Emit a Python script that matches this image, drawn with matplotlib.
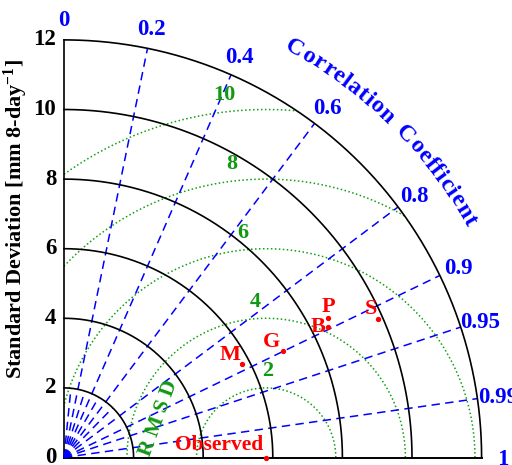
import numpy as np
import matplotlib
matplotlib.use("Agg")
import matplotlib.pyplot as plt
from matplotlib.patches import Wedge
from matplotlib.font_manager import FontProperties

# ---------------- data ----------------
model_names = ["M", "G", "B", "P", "S"]
model_std = [5.78, 6.99, 8.46, 8.58, 9.87]
model_corr = [0.886, 0.900, 0.897, 0.885, 0.915]
obs_name = "Observed"
obs_std = 5.81

std_ticks = [0, 2, 4, 6, 8, 10, 12]
corr_major = [0.2, 0.4, 0.6, 0.8, 0.9, 0.95, 0.99]
corr_minor = [0.1, 0.3, 0.5, 0.7]
corr_labels = [0, 0.2, 0.4, 0.6, 0.8, 0.9, 0.95, 0.99, 1]
rmsd_levels = [2, 4, 6, 8, 10]

# ---------------- style ----------------
FAM = "Liberation Serif"
plt.rcParams["mathtext.fontset"] = "custom"
plt.rcParams["mathtext.rm"] = "Liberation Serif:bold"
plt.rcParams["mathtext.bf"] = "Liberation Serif:bold"
plt.rcParams["mathtext.default"] = "bf"
BLUE = "#0000ff"
GREEN = "#11a011"
GREEN_TXT = "#119911"
RED = "#ff0000"
RMAX = 12.0

W, H = 512, 465
fig = plt.figure(figsize=(W / 100, H / 100), dpi=100)
ax = fig.add_axes([0, 0, 1, 1])
ppu = 34.8
ox, oy = 64, 457.5
ax.set_xlim(-ox / ppu, (W - ox) / ppu)
ax.set_ylim(-(H - oy) / ppu, oy / ppu)
ax.set_aspect("equal")
ax.axis("off")

clip = Wedge((0, 0), RMAX, 0, 90, transform=ax.transData, facecolor="none", edgecolor="none")
ax.add_patch(clip)

# correlation lines
for c in corr_major:
    th = np.arccos(c)
    ax.plot([0, RMAX * np.cos(th)], [0, RMAX * np.sin(th)], color=BLUE, lw=1.1,
            linestyle=(0, (5.5, 3.5)), zorder=2)
for c in corr_minor:
    th = np.arccos(c)
    ax.plot([0, 2.0 * np.cos(th)], [0, 2.0 * np.sin(th)], color=BLUE, lw=1.1,
            linestyle=(0, (5.5, 3.5)), zorder=2)

# std arcs
t = np.linspace(0, np.pi / 2, 400)
for s in std_ticks[1:]:
    ax.plot(s * np.cos(t), s * np.sin(t), color="black", lw=1.2, zorder=3)
ax.plot([0, 0], [0, RMAX], color="black", lw=1.2, zorder=3)
ax.plot([0, RMAX], [0, 0], color="black", lw=1.4, zorder=3)

# RMSD circles
tt = np.linspace(0, np.pi, 800)
label_angles = {2: 89, 4: 94, 6: 96, 8: 96.6, 10: 96.6}
for r in rmsd_levels:
    ln, = ax.plot(obs_std + r * np.cos(tt), r * np.sin(tt), color=GREEN, lw=1.1,
                  linestyle=(0, (1, 1.6)), zorder=1)
    ln.set_clip_path(clip)
    a = np.deg2rad(label_angles[r])
    rr = r + 0.48
    ax.text(obs_std + rr * np.cos(a), rr * np.sin(a), str(r), color=GREEN_TXT,
            fontsize=16, fontweight="bold", family=FAM, ha="center", va="center")

ax.text(2.72, 1.12, "R M S D", rotation=70, color=GREEN_TXT, fontsize=15.5,
        fontweight="bold", family=FAM, ha="center", va="center")

# std tick labels
for s in std_ticks:
    ax.text(-0.22, s, str(s), ha="right", va="center", fontsize=16.5,
            fontweight="bold", family=FAM)
ax.text(-1.38, 6.85, "Standard Deviation [mm 8-day$^{-1}$]", rotation=90,
        ha="center", va="center", fontsize=16, fontweight="bold", family=FAM)

# correlation labels
for c in corr_labels:
    th = np.arccos(c)
    rr = 12.6
    lab = "0" if c == 0 else ("1" if c == 1 else f"{c:g}")
    ax.text(rr * np.cos(th), rr * np.sin(th) - 0.05, lab, color=BLUE,
            fontsize=16.5, fontweight="bold", family=FAM, ha="center", va="center")

# curved "Correlation Coefficient"
title = "Correlation Coefficient"
fp = FontProperties(family=FAM, weight="bold", size=17.5)
fig.canvas.draw()
rend = fig.canvas.get_renderer()
widths = []
for ch in title:
    if ch == " ":
        w = rend.get_text_width_height_descent("n", fp, ismath=False)[0] * 0.7
    else:
        w = rend.get_text_width_height_descent(ch, fp, ismath=False)[0]
    widths.append(w)
widths = np.array(widths)
centers = np.cumsum(widths) - widths / 2
R_t = 13.5
a0, a1 = np.deg2rad(60.6), np.deg2rad(30.3)
span = (a0 - a1)
frac = (centers - centers[0]) / (centers[-1] - centers[0])
for ch, f in zip(title, frac):
    if ch == " ":
        continue
    a = a0 - f * span
    ax.text(R_t * np.cos(a), R_t * np.sin(a), ch, color=BLUE, fontproperties=fp,
            rotation=np.rad2deg(a) - 90, ha="center", va="center",
            rotation_mode="anchor")

# origin marker
ax.add_patch(Wedge((0, 0), 0.14, 0, 90, color=BLUE, zorder=5))

# points
offsets = {"M": (-12, 9), "G": (-11, 9), "B": (-10, 0), "P": (0, 11), "S": (-7, 10)}
for n, s, c in zip(model_names, model_std, model_corr):
    th = np.arccos(c)
    x, y = s * np.cos(th), s * np.sin(th)
    ax.plot(x, y, "o", color=RED, ms=2.8, zorder=6)
    dx, dy = offsets[n]
    ax.annotate(n, (x, y), xytext=(dx * 0.72, dy * 0.72), textcoords="offset points",
                color=RED, fontsize=16, fontweight="bold", family=FAM,
                ha="center", va="center")
ax.plot(obs_std, 0, "o", color=RED, ms=2.8, zorder=6, clip_on=False)
ax.annotate(obs_name, (obs_std, 0), xytext=(-2, 2), textcoords="offset points",
            color=RED, fontsize=15.5, fontweight="bold", family=FAM,
            ha="right", va="bottom")

fig.savefig("out.png", dpi=100)
